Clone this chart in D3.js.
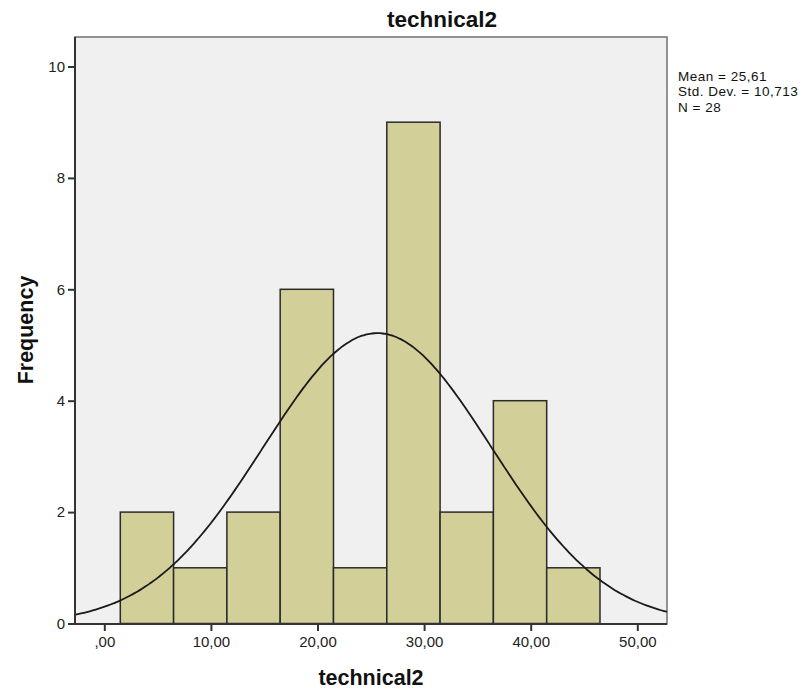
<!DOCTYPE html>
<html><head><meta charset="utf-8">
<script src="https://cdn.jsdelivr.net/npm/d3@7"></script>
<style>body{margin:0;background:#fff;} svg{display:block;}</style>
</head><body>
<svg id="c" width="811" height="695"></svg>
<script>
const binStarts = [1.5, 6.5, 11.5, 16.5, 21.5, 26.5, 31.5, 36.5, 41.5];
const binWidth = 5;
const counts = [2, 1, 2, 6, 1, 9, 2, 4, 1];
const xTicks = [0, 10, 20, 30, 40, 50];
const xTickLabels = [",00", "10,00", "20,00", "30,00", "40,00", "50,00"];
const yTicks = [0, 2, 4, 6, 8, 10];
const mean = 25.61, sd = 10.713, n = 28;
const statsLines = ["Mean = 25,61", "Std. Dev. = 10,713", "N = 28"];
const title = "technical2", xLabel = "technical2", yLabel = "Frequency";

const FONT = "Arial, 'Liberation Sans', sans-serif";
const svg = d3.select("#c");
const L = 75, R = 667, T = 37, B = 624;
const x = d3.scaleLinear().domain([0, 50]).range([104.3, 637.3]);
const xMin = x.invert(L), xMax = x.invert(R);
const y = d3.scaleLinear().domain([0, 10]).range([623.5, 66.5]);

svg.append("rect").attr("x", L).attr("y", T).attr("width", R - L).attr("height", B - T)
  .attr("fill", "#f0f0f0").attr("stroke", "#707070").attr("stroke-width", 1.5);

const g = svg.append("g");
g.append("defs").append("clipPath").attr("id", "clip").append("rect")
  .attr("x", L).attr("y", T).attr("width", R - L).attr("height", B - T);

g.selectAll("rect.bar").data(binStarts).join("rect").attr("class", "bar")
  .attr("x", (d) => x(d)).attr("width", (d) => x(d + binWidth) - x(d))
  .attr("y", (d, i) => y(counts[i])).attr("height", (d, i) => y(0) - y(counts[i]))
  .attr("fill", "#d3cf98").attr("stroke", "#2a2a2a").attr("stroke-width", 1.5);

const pts = d3.range(0, 201).map(i => xMin + (xMax - xMin) * i / 200);
const pdf = v => n * binWidth * Math.exp(-0.5 * ((v - mean) / sd) ** 2) / (sd * Math.sqrt(2 * Math.PI));
g.append("path").datum(pts).attr("clip-path", "url(#clip)")
  .attr("d", d3.line().x(d => x(d)).y(d => y(pdf(d))).curve(d3.curveBasis))
  .attr("fill", "none").attr("stroke", "#1a1a1a").attr("stroke-width", 1.8);

svg.append("line").attr("x1", L).attr("x2", L).attr("y1", T).attr("y2", B + 1).attr("stroke", "#333").attr("stroke-width", 2);
svg.append("line").attr("x1", L - 1).attr("x2", R).attr("y1", B).attr("y2", B).attr("stroke", "#333").attr("stroke-width", 2);

const xAxis = d3.axisBottom(x).tickValues(xTicks).tickFormat((d, i) => xTickLabels[i]).tickSize(7).tickPadding(5);
const xa = svg.append("g").attr("transform", `translate(0,${B})`).call(xAxis);
xa.select(".domain").remove();
xa.selectAll("line").attr("stroke", "#333").attr("stroke-width", 2);
xa.selectAll("text").attr("font-family", FONT).attr("font-size", 15).attr("fill", "#222");

const yAxis = d3.axisLeft(y).tickValues(yTicks).tickSize(7).tickPadding(3);
const ya = svg.append("g").attr("transform", `translate(${L},0)`).call(yAxis);
ya.select(".domain").remove();
ya.selectAll("line").attr("stroke", "#333").attr("stroke-width", 2);
ya.selectAll("text").attr("font-family", FONT).attr("font-size", 15).attr("fill", "#222");

svg.append("text").attr("x", 442).attr("y", 27).attr("text-anchor", "middle")
  .attr("font-family", FONT).attr("font-weight", "bold").attr("font-size", 22.5).attr("fill", "#111").text(title);
svg.append("text").attr("x", 371).attr("y", 685).attr("text-anchor", "middle")
  .attr("font-family", FONT).attr("font-weight", "bold").attr("font-size", 21.5).attr("fill", "#111").text(xLabel);
svg.append("text").attr("transform", "translate(33,330) rotate(-90)").attr("text-anchor", "middle")
  .attr("font-family", FONT).attr("font-weight", "bold").attr("font-size", 21.5).attr("fill", "#111").text(yLabel);

svg.selectAll("text.stat").data(statsLines).join("text").attr("class", "stat")
  .attr("x", 678).attr("y", (d, i) => 80.5 + i * 15.5)
  .attr("font-family", FONT).attr("font-size", 13.5).attr("letter-spacing", 0.5).attr("fill", "#111").text(d => d);
</script>
</body></html>
